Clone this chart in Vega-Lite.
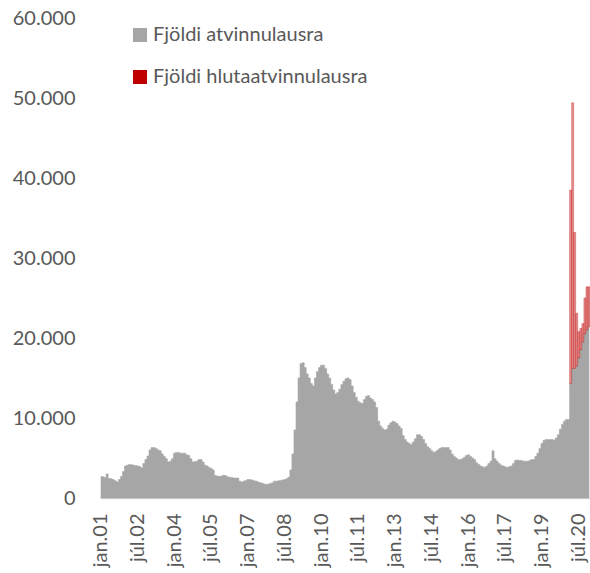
{
  "$schema": "https://vega.github.io/schema/vega-lite/v6.json",
  "width": 490,
  "height": 480,
  "autosize": {"type": "none"},
  "padding": {"left": 100, "top": 18, "right": 0, "bottom": 75},
  "background": "white",
  "config": {
    "view": {"stroke": null},
    "font": "Lato",
    "axis": {"labelColor": "#595959", "labelFont": "Lato", "grid": false, "ticks": false, "title": null},
    "legend": {"labelColor": "#595959", "labelFont": "Lato"}
  },
  "data": {"values": [
    {"m":"jan.01","s":"Fjöldi atvinnulausra","v":2700},{"m":"feb.01","s":"Fjöldi atvinnulausra","v":2650},{"m":"mar.01","s":"Fjöldi atvinnulausra","v":2550},{"m":"apr.01","s":"Fjöldi atvinnulausra","v":3000},{"m":"maí.01","s":"Fjöldi atvinnulausra","v":2450},{"m":"jún.01","s":"Fjöldi atvinnulausra","v":2400},{"m":"júl.01","s":"Fjöldi atvinnulausra","v":2300},{"m":"ágú.01","s":"Fjöldi atvinnulausra","v":2150},{"m":"sep.01","s":"Fjöldi atvinnulausra","v":2000},{"m":"okt.01","s":"Fjöldi atvinnulausra","v":2300},{"m":"nóv.01","s":"Fjöldi atvinnulausra","v":2700},{"m":"des.01","s":"Fjöldi atvinnulausra","v":3300},
    {"m":"jan.02","s":"Fjöldi atvinnulausra","v":4000},{"m":"feb.02","s":"Fjöldi atvinnulausra","v":4100},{"m":"mar.02","s":"Fjöldi atvinnulausra","v":4200},{"m":"apr.02","s":"Fjöldi atvinnulausra","v":4150},{"m":"maí.02","s":"Fjöldi atvinnulausra","v":4100},{"m":"jún.02","s":"Fjöldi atvinnulausra","v":4050},{"m":"júl.02","s":"Fjöldi atvinnulausra","v":4000},{"m":"ágú.02","s":"Fjöldi atvinnulausra","v":3950},{"m":"sep.02","s":"Fjöldi atvinnulausra","v":3750},{"m":"okt.02","s":"Fjöldi atvinnulausra","v":4300},{"m":"nóv.02","s":"Fjöldi atvinnulausra","v":4800},{"m":"des.02","s":"Fjöldi atvinnulausra","v":5250},
    {"m":"jan.03","s":"Fjöldi atvinnulausra","v":6000},{"m":"feb.03","s":"Fjöldi atvinnulausra","v":6300},{"m":"mar.03","s":"Fjöldi atvinnulausra","v":6300},{"m":"apr.03","s":"Fjöldi atvinnulausra","v":6200},{"m":"maí.03","s":"Fjöldi atvinnulausra","v":6000},{"m":"jún.03","s":"Fjöldi atvinnulausra","v":5900},{"m":"júl.03","s":"Fjöldi atvinnulausra","v":5500},{"m":"ágú.03","s":"Fjöldi atvinnulausra","v":5200},{"m":"sep.03","s":"Fjöldi atvinnulausra","v":4900},{"m":"okt.03","s":"Fjöldi atvinnulausra","v":4500},{"m":"nóv.03","s":"Fjöldi atvinnulausra","v":4600},{"m":"des.03","s":"Fjöldi atvinnulausra","v":4900},
    {"m":"jan.04","s":"Fjöldi atvinnulausra","v":5600},{"m":"feb.04","s":"Fjöldi atvinnulausra","v":5700},{"m":"mar.04","s":"Fjöldi atvinnulausra","v":5700},{"m":"apr.04","s":"Fjöldi atvinnulausra","v":5600},{"m":"maí.04","s":"Fjöldi atvinnulausra","v":5600},{"m":"jún.04","s":"Fjöldi atvinnulausra","v":5600},{"m":"júl.04","s":"Fjöldi atvinnulausra","v":5400},{"m":"ágú.04","s":"Fjöldi atvinnulausra","v":5300},{"m":"sep.04","s":"Fjöldi atvinnulausra","v":4900},{"m":"okt.04","s":"Fjöldi atvinnulausra","v":4500},{"m":"nóv.04","s":"Fjöldi atvinnulausra","v":4550},{"m":"des.04","s":"Fjöldi atvinnulausra","v":4600},
    {"m":"jan.05","s":"Fjöldi atvinnulausra","v":4800},{"m":"feb.05","s":"Fjöldi atvinnulausra","v":4800},{"m":"mar.05","s":"Fjöldi atvinnulausra","v":4500},{"m":"apr.05","s":"Fjöldi atvinnulausra","v":4100},{"m":"maí.05","s":"Fjöldi atvinnulausra","v":4000},{"m":"jún.05","s":"Fjöldi atvinnulausra","v":3800},{"m":"júl.05","s":"Fjöldi atvinnulausra","v":3700},{"m":"ágú.05","s":"Fjöldi atvinnulausra","v":3500},{"m":"sep.05","s":"Fjöldi atvinnulausra","v":2800},{"m":"okt.05","s":"Fjöldi atvinnulausra","v":2750},{"m":"nóv.05","s":"Fjöldi atvinnulausra","v":2700},{"m":"des.05","s":"Fjöldi atvinnulausra","v":2750},
    {"m":"jan.06","s":"Fjöldi atvinnulausra","v":2850},{"m":"feb.06","s":"Fjöldi atvinnulausra","v":2800},{"m":"mar.06","s":"Fjöldi atvinnulausra","v":2650},{"m":"apr.06","s":"Fjöldi atvinnulausra","v":2600},{"m":"maí.06","s":"Fjöldi atvinnulausra","v":2550},{"m":"jún.06","s":"Fjöldi atvinnulausra","v":2500},{"m":"júl.06","s":"Fjöldi atvinnulausra","v":2500},{"m":"ágú.06","s":"Fjöldi atvinnulausra","v":2500},{"m":"sep.06","s":"Fjöldi atvinnulausra","v":2100},{"m":"okt.06","s":"Fjöldi atvinnulausra","v":2000},{"m":"nóv.06","s":"Fjöldi atvinnulausra","v":2100},{"m":"des.06","s":"Fjöldi atvinnulausra","v":2200},
    {"m":"jan.07","s":"Fjöldi atvinnulausra","v":2300},{"m":"feb.07","s":"Fjöldi atvinnulausra","v":2300},{"m":"mar.07","s":"Fjöldi atvinnulausra","v":2250},{"m":"apr.07","s":"Fjöldi atvinnulausra","v":2150},{"m":"maí.07","s":"Fjöldi atvinnulausra","v":2100},{"m":"jún.07","s":"Fjöldi atvinnulausra","v":2000},{"m":"júl.07","s":"Fjöldi atvinnulausra","v":1900},{"m":"ágú.07","s":"Fjöldi atvinnulausra","v":1850},{"m":"sep.07","s":"Fjöldi atvinnulausra","v":1750},{"m":"okt.07","s":"Fjöldi atvinnulausra","v":1700},{"m":"nóv.07","s":"Fjöldi atvinnulausra","v":1750},{"m":"des.07","s":"Fjöldi atvinnulausra","v":1800},
    {"m":"jan.08","s":"Fjöldi atvinnulausra","v":1900},{"m":"feb.08","s":"Fjöldi atvinnulausra","v":2100},{"m":"mar.08","s":"Fjöldi atvinnulausra","v":2100},{"m":"apr.08","s":"Fjöldi atvinnulausra","v":2150},{"m":"maí.08","s":"Fjöldi atvinnulausra","v":2200},{"m":"jún.08","s":"Fjöldi atvinnulausra","v":2250},{"m":"júl.08","s":"Fjöldi atvinnulausra","v":2300},{"m":"ágú.08","s":"Fjöldi atvinnulausra","v":2400},{"m":"sep.08","s":"Fjöldi atvinnulausra","v":2600},{"m":"okt.08","s":"Fjöldi atvinnulausra","v":3500},{"m":"nóv.08","s":"Fjöldi atvinnulausra","v":5500},{"m":"des.08","s":"Fjöldi atvinnulausra","v":8500},
    {"m":"jan.09","s":"Fjöldi atvinnulausra","v":12000},{"m":"feb.09","s":"Fjöldi atvinnulausra","v":15000},{"m":"mar.09","s":"Fjöldi atvinnulausra","v":16800},{"m":"apr.09","s":"Fjöldi atvinnulausra","v":16900},{"m":"maí.09","s":"Fjöldi atvinnulausra","v":16300},{"m":"jún.09","s":"Fjöldi atvinnulausra","v":15500},{"m":"júl.09","s":"Fjöldi atvinnulausra","v":15000},{"m":"ágú.09","s":"Fjöldi atvinnulausra","v":14300},{"m":"sep.09","s":"Fjöldi atvinnulausra","v":14000},{"m":"okt.09","s":"Fjöldi atvinnulausra","v":15000},{"m":"nóv.09","s":"Fjöldi atvinnulausra","v":15800},{"m":"des.09","s":"Fjöldi atvinnulausra","v":16300},
    {"m":"jan.10","s":"Fjöldi atvinnulausra","v":16600},{"m":"feb.10","s":"Fjöldi atvinnulausra","v":16600},{"m":"mar.10","s":"Fjöldi atvinnulausra","v":16200},{"m":"apr.10","s":"Fjöldi atvinnulausra","v":15500},{"m":"maí.10","s":"Fjöldi atvinnulausra","v":15000},{"m":"jún.10","s":"Fjöldi atvinnulausra","v":14200},{"m":"júl.10","s":"Fjöldi atvinnulausra","v":13500},{"m":"ágú.10","s":"Fjöldi atvinnulausra","v":13000},{"m":"sep.10","s":"Fjöldi atvinnulausra","v":13200},{"m":"okt.10","s":"Fjöldi atvinnulausra","v":13600},{"m":"nóv.10","s":"Fjöldi atvinnulausra","v":14200},{"m":"des.10","s":"Fjöldi atvinnulausra","v":14600},
    {"m":"jan.11","s":"Fjöldi atvinnulausra","v":14900},{"m":"feb.11","s":"Fjöldi atvinnulausra","v":15000},{"m":"mar.11","s":"Fjöldi atvinnulausra","v":14800},{"m":"apr.11","s":"Fjöldi atvinnulausra","v":14000},{"m":"maí.11","s":"Fjöldi atvinnulausra","v":13200},{"m":"jún.11","s":"Fjöldi atvinnulausra","v":12600},{"m":"júl.11","s":"Fjöldi atvinnulausra","v":12100},{"m":"ágú.11","s":"Fjöldi atvinnulausra","v":11900},{"m":"sep.11","s":"Fjöldi atvinnulausra","v":11800},{"m":"okt.11","s":"Fjöldi atvinnulausra","v":12300},{"m":"nóv.11","s":"Fjöldi atvinnulausra","v":12700},{"m":"des.11","s":"Fjöldi atvinnulausra","v":12800},
    {"m":"jan.12","s":"Fjöldi atvinnulausra","v":12500},{"m":"feb.12","s":"Fjöldi atvinnulausra","v":12300},{"m":"mar.12","s":"Fjöldi atvinnulausra","v":12000},{"m":"apr.12","s":"Fjöldi atvinnulausra","v":11300},{"m":"maí.12","s":"Fjöldi atvinnulausra","v":9600},{"m":"jún.12","s":"Fjöldi atvinnulausra","v":9000},{"m":"júl.12","s":"Fjöldi atvinnulausra","v":8700},{"m":"ágú.12","s":"Fjöldi atvinnulausra","v":8500},{"m":"sep.12","s":"Fjöldi atvinnulausra","v":8600},{"m":"okt.12","s":"Fjöldi atvinnulausra","v":9100},{"m":"nóv.12","s":"Fjöldi atvinnulausra","v":9400},{"m":"des.12","s":"Fjöldi atvinnulausra","v":9600},
    {"m":"jan.13","s":"Fjöldi atvinnulausra","v":9500},{"m":"feb.13","s":"Fjöldi atvinnulausra","v":9300},{"m":"mar.13","s":"Fjöldi atvinnulausra","v":9000},{"m":"apr.13","s":"Fjöldi atvinnulausra","v":8700},{"m":"maí.13","s":"Fjöldi atvinnulausra","v":7800},{"m":"jún.13","s":"Fjöldi atvinnulausra","v":7300},{"m":"júl.13","s":"Fjöldi atvinnulausra","v":7000},{"m":"ágú.13","s":"Fjöldi atvinnulausra","v":6800},{"m":"sep.13","s":"Fjöldi atvinnulausra","v":6700},{"m":"okt.13","s":"Fjöldi atvinnulausra","v":7000},{"m":"nóv.13","s":"Fjöldi atvinnulausra","v":7400},{"m":"des.13","s":"Fjöldi atvinnulausra","v":7900},
    {"m":"jan.14","s":"Fjöldi atvinnulausra","v":7900},{"m":"feb.14","s":"Fjöldi atvinnulausra","v":7700},{"m":"mar.14","s":"Fjöldi atvinnulausra","v":7300},{"m":"apr.14","s":"Fjöldi atvinnulausra","v":6800},{"m":"maí.14","s":"Fjöldi atvinnulausra","v":6400},{"m":"jún.14","s":"Fjöldi atvinnulausra","v":6200},{"m":"júl.14","s":"Fjöldi atvinnulausra","v":5900},{"m":"ágú.14","s":"Fjöldi atvinnulausra","v":5700},{"m":"sep.14","s":"Fjöldi atvinnulausra","v":5800},{"m":"okt.14","s":"Fjöldi atvinnulausra","v":6000},{"m":"nóv.14","s":"Fjöldi atvinnulausra","v":6200},{"m":"des.14","s":"Fjöldi atvinnulausra","v":6300},
    {"m":"jan.15","s":"Fjöldi atvinnulausra","v":6300},{"m":"feb.15","s":"Fjöldi atvinnulausra","v":6300},{"m":"mar.15","s":"Fjöldi atvinnulausra","v":6300},{"m":"apr.15","s":"Fjöldi atvinnulausra","v":6000},{"m":"maí.15","s":"Fjöldi atvinnulausra","v":5500},{"m":"jún.15","s":"Fjöldi atvinnulausra","v":5200},{"m":"júl.15","s":"Fjöldi atvinnulausra","v":5000},{"m":"ágú.15","s":"Fjöldi atvinnulausra","v":4800},{"m":"sep.15","s":"Fjöldi atvinnulausra","v":4800},{"m":"okt.15","s":"Fjöldi atvinnulausra","v":4900},{"m":"nóv.15","s":"Fjöldi atvinnulausra","v":5100},{"m":"des.15","s":"Fjöldi atvinnulausra","v":5300},
    {"m":"jan.16","s":"Fjöldi atvinnulausra","v":5400},{"m":"feb.16","s":"Fjöldi atvinnulausra","v":5200},{"m":"mar.16","s":"Fjöldi atvinnulausra","v":5000},{"m":"apr.16","s":"Fjöldi atvinnulausra","v":4800},{"m":"maí.16","s":"Fjöldi atvinnulausra","v":4400},{"m":"jún.16","s":"Fjöldi atvinnulausra","v":4200},{"m":"júl.16","s":"Fjöldi atvinnulausra","v":4000},{"m":"ágú.16","s":"Fjöldi atvinnulausra","v":3900},{"m":"sep.16","s":"Fjöldi atvinnulausra","v":3800},{"m":"okt.16","s":"Fjöldi atvinnulausra","v":4000},{"m":"nóv.16","s":"Fjöldi atvinnulausra","v":4300},{"m":"des.16","s":"Fjöldi atvinnulausra","v":4600},
    {"m":"jan.17","s":"Fjöldi atvinnulausra","v":5900},{"m":"feb.17","s":"Fjöldi atvinnulausra","v":4900},{"m":"mar.17","s":"Fjöldi atvinnulausra","v":4600},{"m":"apr.17","s":"Fjöldi atvinnulausra","v":4300},{"m":"maí.17","s":"Fjöldi atvinnulausra","v":4100},{"m":"jún.17","s":"Fjöldi atvinnulausra","v":4000},{"m":"júl.17","s":"Fjöldi atvinnulausra","v":3900},{"m":"ágú.17","s":"Fjöldi atvinnulausra","v":3800},{"m":"sep.17","s":"Fjöldi atvinnulausra","v":3900},{"m":"okt.17","s":"Fjöldi atvinnulausra","v":4000},{"m":"nóv.17","s":"Fjöldi atvinnulausra","v":4300},{"m":"des.17","s":"Fjöldi atvinnulausra","v":4700},
    {"m":"jan.18","s":"Fjöldi atvinnulausra","v":4750},{"m":"feb.18","s":"Fjöldi atvinnulausra","v":4700},{"m":"mar.18","s":"Fjöldi atvinnulausra","v":4700},{"m":"apr.18","s":"Fjöldi atvinnulausra","v":4600},{"m":"maí.18","s":"Fjöldi atvinnulausra","v":4600},{"m":"jún.18","s":"Fjöldi atvinnulausra","v":4600},{"m":"júl.18","s":"Fjöldi atvinnulausra","v":4700},{"m":"ágú.18","s":"Fjöldi atvinnulausra","v":4800},{"m":"sep.18","s":"Fjöldi atvinnulausra","v":4800},{"m":"okt.18","s":"Fjöldi atvinnulausra","v":5200},{"m":"nóv.18","s":"Fjöldi atvinnulausra","v":5600},{"m":"des.18","s":"Fjöldi atvinnulausra","v":6200},
    {"m":"jan.19","s":"Fjöldi atvinnulausra","v":6800},{"m":"feb.19","s":"Fjöldi atvinnulausra","v":7200},{"m":"mar.19","s":"Fjöldi atvinnulausra","v":7300},{"m":"apr.19","s":"Fjöldi atvinnulausra","v":7300},{"m":"maí.19","s":"Fjöldi atvinnulausra","v":7300},{"m":"jún.19","s":"Fjöldi atvinnulausra","v":7300},{"m":"júl.19","s":"Fjöldi atvinnulausra","v":7250},{"m":"ágú.19","s":"Fjöldi atvinnulausra","v":7500},{"m":"sep.19","s":"Fjöldi atvinnulausra","v":7900},{"m":"okt.19","s":"Fjöldi atvinnulausra","v":8600},{"m":"nóv.19","s":"Fjöldi atvinnulausra","v":9200},{"m":"des.19","s":"Fjöldi atvinnulausra","v":9600},
    {"m":"jan.20","s":"Fjöldi atvinnulausra","v":9800},{"m":"feb.20","s":"Fjöldi atvinnulausra","v":9800},{"m":"mar.20","s":"Fjöldi atvinnulausra","v":14300},{"m":"apr.20","s":"Fjöldi atvinnulausra","v":16200},{"m":"maí.20","s":"Fjöldi atvinnulausra","v":16200},{"m":"jún.20","s":"Fjöldi atvinnulausra","v":16500},{"m":"júl.20","s":"Fjöldi atvinnulausra","v":17500},{"m":"ágú.20","s":"Fjöldi atvinnulausra","v":18500},{"m":"sep.20","s":"Fjöldi atvinnulausra","v":19500},{"m":"okt.20","s":"Fjöldi atvinnulausra","v":20500},{"m":"nóv.20","s":"Fjöldi atvinnulausra","v":21000},{"m":"des.20","s":"Fjöldi atvinnulausra","v":21400},
    {"m":"mar.20","s":"Fjöldi hlutaatvinnulausra","v":24200},{"m":"apr.20","s":"Fjöldi hlutaatvinnulausra","v":33200},{"m":"maí.20","s":"Fjöldi hlutaatvinnulausra","v":17000},{"m":"jún.20","s":"Fjöldi hlutaatvinnulausra","v":6600},{"m":"júl.20","s":"Fjöldi hlutaatvinnulausra","v":3300},{"m":"ágú.20","s":"Fjöldi hlutaatvinnulausra","v":2700},{"m":"sep.20","s":"Fjöldi hlutaatvinnulausra","v":2300},{"m":"okt.20","s":"Fjöldi hlutaatvinnulausra","v":4500},{"m":"nóv.20","s":"Fjöldi hlutaatvinnulausra","v":5400},{"m":"des.20","s":"Fjöldi hlutaatvinnulausra","v":5000}
  ]},
  "encoding": {
    "x": {
      "field": "m", "type": "ordinal", "sort": null,
      "scale": {"type": "band", "paddingInner": 0, "paddingOuter": 0},
      "axis": {
        "values": ["jan.01","júl.02","jan.04","júl.05","jan.07","júl.08","jan.10","júl.11","jan.13","júl.14","jan.16","júl.17","jan.19","júl.20"],
        "labelAngle": -90, "labelFontSize": 20, "labelPadding": 15,
        "domain": true, "domainColor": "#D9D9D9", "domainWidth": 1.5
      }
    },
    "color": {
      "field": "s", "type": "nominal",
      "scale": {"domain": ["Fjöldi atvinnulausra", "Fjöldi hlutaatvinnulausra"], "range": ["#A6A6A6", "#C00000"]},
      "legend": {
        "title": null, "orient": "none", "legendX": 30, "legendY": 7,
        "direction": "vertical", "symbolType": "square", "symbolSize": 196,
        "symbolStrokeWidth": 0, "symbolOpacity": 1, "labelFontSize": 20, "labelLimit": 0, "rowPadding": 22, "labelOffset": 3
      }
    }
  },
  "layer": [
    {
      "transform": [{"filter": "datum.s === 'Fjöldi atvinnulausra'"}],
      "mark": {"type": "area", "interpolate": "step", "stroke": "#A6A6A6", "strokeWidth": 0.6},
      "encoding": {
        "y": {
          "field": "v", "type": "quantitative",
          "scale": {"domain": [0, 60000], "nice": false},
          "axis": {
            "values": [0, 10000, 20000, 30000, 40000, 50000, 60000],
            "labelExpr": "replace(format(datum.value, ','), ',', '.')",
            "labelFontSize": 20, "labelPadding": 25, "domain": false
          }
        }
      }
    },
    {
      "mark": {"type": "bar"},
      "encoding": {
        "y": {"field": "v", "type": "quantitative", "stack": "zero"},
        "fillOpacity": {"condition": {"test": "datum.s === 'Fjöldi hlutaatvinnulausra'", "value": 0.45}, "value": 0},
        "stroke": {"value": "#C00000"},
        "strokeWidth": {"value": 0.4},
        "strokeOpacity": {"condition": {"test": "datum.s === 'Fjöldi hlutaatvinnulausra'", "value": 0.7}, "value": 0},
        "order": {"field": "s", "sort": "ascending"}
      }
    }
  ]
}
